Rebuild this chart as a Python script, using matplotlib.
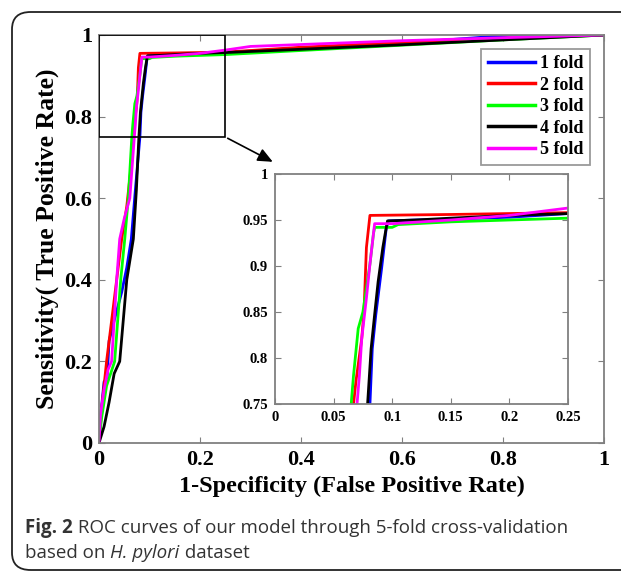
import matplotlib
matplotlib.use("Agg")
import matplotlib.pyplot as plt
from matplotlib.patches import FancyBboxPatch, Rectangle

# ROC points (FPR, TPR) for each fold
fpr1 = [0, 0.002, 0.01, 0.016, 0.02, 0.03, 0.045, 0.055, 0.064, 0.072, 0.081, 0.083, 0.086, 0.091, 0.093, 0.095, 0.097, 0.12, 0.15, 0.2, 0.25, 0.4, 0.6, 0.82, 1.0]
tpr1 = [0, 0.05, 0.15, 0.16, 0.25, 0.30, 0.37, 0.43, 0.50, 0.62, 0.75, 0.81, 0.847, 0.898, 0.92, 0.942, 0.949, 0.95, 0.951, 0.953, 0.957, 0.968, 0.98, 1.0, 1.0]

fpr2 = [0, 0.005, 0.015, 0.025, 0.035, 0.045, 0.055, 0.062, 0.067, 0.069, 0.074, 0.076, 0.078, 0.081, 0.15, 0.25, 0.4, 0.6, 0.8, 0.9, 1.0]
tpr2 = [0, 0.08, 0.20, 0.30, 0.40, 0.50, 0.58, 0.66, 0.75, 0.774, 0.821, 0.852, 0.92, 0.955, 0.956, 0.958, 0.97, 0.982, 0.992, 0.996, 1.0]

fpr3 = [0, 0.005, 0.015, 0.031, 0.043, 0.051, 0.058, 0.065, 0.067, 0.071, 0.075, 0.081, 0.084, 0.085, 0.1, 0.105, 0.15, 0.25, 0.4, 0.6, 0.8, 1.0]
tpr3 = [0, 0.06, 0.14, 0.20, 0.40, 0.50, 0.60, 0.75, 0.781, 0.832, 0.85, 0.902, 0.935, 0.942, 0.942, 0.945, 0.948, 0.952, 0.962, 0.975, 0.988, 1.0]

fpr4 = [0, 0.01, 0.02, 0.03, 0.041, 0.048, 0.055, 0.068, 0.074, 0.079, 0.082, 0.085, 0.088, 0.092, 0.094, 0.096, 0.12, 0.15, 0.2, 0.25, 0.4, 0.6, 0.8, 1.0]
tpr4 = [0, 0.04, 0.10, 0.17, 0.20, 0.30, 0.40, 0.50, 0.62, 0.75, 0.81, 0.847, 0.883, 0.92, 0.935, 0.949, 0.95, 0.952, 0.955, 0.957, 0.965, 0.976, 0.988, 1.0]

fpr5 = [0, 0.003, 0.01, 0.018, 0.025, 0.03, 0.035, 0.041, 0.05, 0.061, 0.07, 0.072, 0.074, 0.078, 0.081, 0.085, 0.1, 0.15, 0.2, 0.25, 0.3, 0.6, 0.82, 1.0]
tpr5 = [0, 0.07, 0.13, 0.18, 0.20, 0.30, 0.40, 0.50, 0.55, 0.60, 0.75, 0.781, 0.821, 0.865, 0.902, 0.946, 0.946, 0.95, 0.955, 0.963, 0.972, 0.986, 0.994, 1.0]

labels = ["1 fold", "2 fold", "3 fold", "4 fold", "5 fold"]
colors = ["#0000ff", "#ff0000", "#00ff00", "#000000", "#ff00ff"]
curves = [(fpr1, tpr1), (fpr2, tpr2), (fpr3, tpr3), (fpr4, tpr4), (fpr5, tpr5)]

main_ticks = [0, 0.2, 0.4, 0.6, 0.8, 1]
inset_xticks = [0, 0.05, 0.1, 0.15, 0.2, 0.25]
inset_yticks = [0.75, 0.8, 0.85, 0.9, 0.95, 1]

serif = "Liberation Serif"
gray = "#808080"

W, H = 621, 576
fig = plt.figure(figsize=(W / 100, H / 100), dpi=100)

def px_box(l, t, r, b):
    return [l / W, 1 - b / H, (r - l) / W, (b - t) / H]

# rounded frame around the whole figure
frame = FancyBboxPatch((12 / W, 6 / H), 640 / W, 558 / H,
                       boxstyle="round,pad=0,rounding_size=0.03",
                       transform=fig.transFigure, fill=False,
                       edgecolor="#222222", linewidth=1.3, clip_on=False)
fig.patches.append(frame)

def style_axes(ax, size):
    for s in ax.spines.values():
        s.set_color(gray)
        s.set_linewidth(1.3)
    ax.tick_params(direction="in", top=True, right=True, length=4,
                   color=gray, labelsize=size, pad=5)
    for lab in ax.get_xticklabels() + ax.get_yticklabels():
        lab.set_fontfamily(serif)
        lab.set_fontweight("bold")

ax = fig.add_axes(px_box(99, 35, 604, 443))
for (x, y), c, lab in zip(curves, colors, labels):
    ax.plot(x, y, color=c, lw=2.0, label=lab)
ax.set_xlim(0, 1)
ax.set_ylim(0, 1)
ax.set_xticks(main_ticks)
ax.set_yticks(main_ticks)
ax.set_xticklabels(["0", "0.2", "0.4", "0.6", "0.8", "1"])
ax.set_yticklabels(["0", "0.2", "0.4", "0.6", "0.8", "1"])
style_axes(ax, 16)
ax.set_xlabel("1-Specificity (False Positive Rate)", fontfamily=serif,
              fontweight="bold", fontsize=17.5, labelpad=4)
ax.set_ylabel("Sensitivity( True Positive Rate)", fontfamily=serif,
              fontweight="bold", fontsize=18.5, labelpad=4)

ax.add_patch(Rectangle((0, 0.75), 0.25, 0.25, fill=False, edgecolor="black",
                       lw=1.2, zorder=5))
ax.annotate("", xy=(0.349, 0.686), xytext=(0.25, 0.75),
            arrowprops=dict(arrowstyle="-|>,head_length=0.9,head_width=0.4",
                            color="black", lw=1.2))

leg = ax.legend(loc="upper right", bbox_to_anchor=(0.972, 0.966),
                borderaxespad=0, fancybox=False, handlelength=2.6,
                handletextpad=0.3, borderpad=0.35, labelspacing=0.25,
                prop={"family": serif, "weight": "bold", "size": 13})
leg.get_frame().set_edgecolor(gray)
leg.get_frame().set_linewidth(1.3)
for line in leg.get_lines():
    line.set_linewidth(2.5)

ins = fig.add_axes(px_box(275, 174, 568, 404))
for (x, y), c in zip(curves, colors):
    ins.plot(x, y, color=c, lw=2.0)
ins.set_xlim(0, 0.25)
ins.set_ylim(0.75, 1)
ins.set_xticks(inset_xticks)
ins.set_yticks(inset_yticks)
ins.set_xticklabels(["0", "0.05", "0.1", "0.15", "0.2", "0.25"])
ins.set_yticklabels(["0.75", "0.8", "0.85", "0.9", "0.95", "1"])
style_axes(ins, 10.5)

# caption with mixed styles
sans = "Open Sans"
fig.canvas.draw()
renderer = fig.canvas.get_renderer()

def rich_line(x, y, pieces):
    for txt, weight, style in pieces:
        t = fig.text(x, y, txt, fontfamily=sans, fontweight=weight,
                     fontstyle=style, fontsize=13.5, color="#333333",
                     va="baseline", ha="left")
        bb = t.get_window_extent(renderer)
        x += bb.width / W

rich_line(25 / W, 1 - 533 / H, [("Fig. 2", "bold", "normal"),
                                (" ROC curves of our model through 5-fold cross-validation",
                                 "normal", "normal")])
rich_line(25 / W, 1 - 558 / H, [("based on ", "normal", "normal"),
                                ("H. pylori", "normal", "italic"),
                                (" dataset", "normal", "normal")])

fig.savefig("out.png", dpi=100)
